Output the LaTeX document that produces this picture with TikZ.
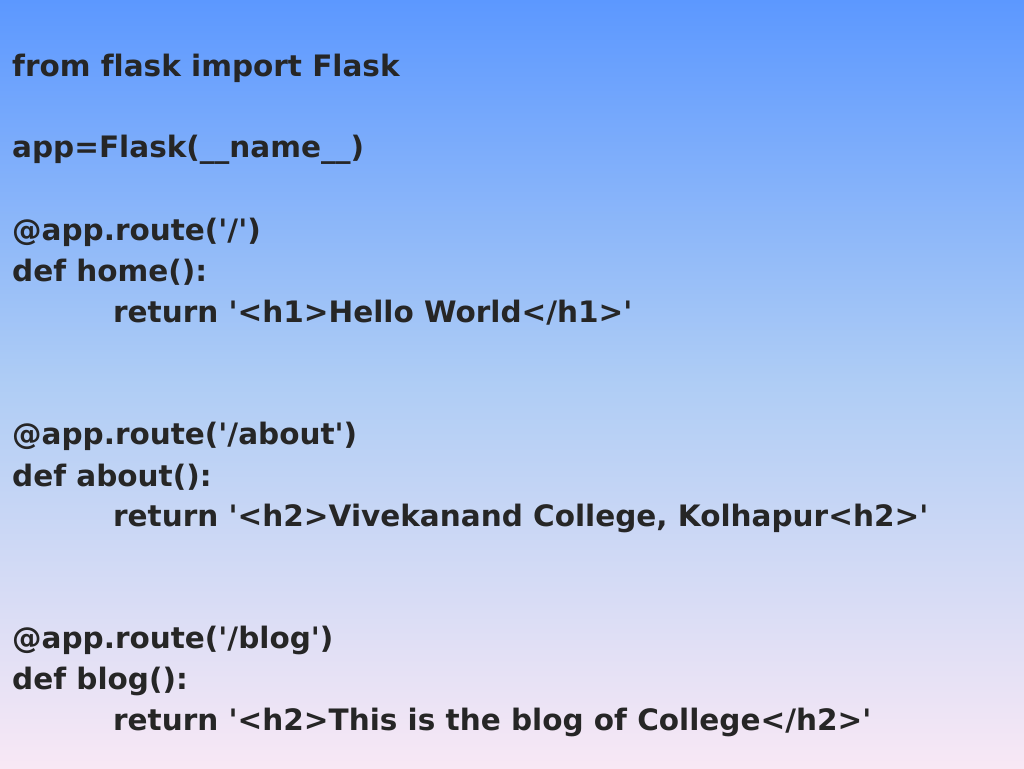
\documentclass[tikz,border=0pt]{standalone}
\usepackage{fontspec}
\setmainfont[Ligatures={NoCommon,TeXOff}]{DejaVu Sans}
\begin{document}
\begin{tikzpicture}[x=1pt,y=-1pt,
  code/.style={anchor=west,inner sep=0pt,font=\bfseries\fontsize{29.5}{32}\selectfont,text=black!85}]
\shade[top color={rgb,255:red,92;green,152;blue,255},bottom color={rgb,255:red,248;green,232;blue,245},middle color={rgb,255:red,175;green,205;blue,245}] (0,0) rectangle (1024,768);
\useasboundingbox (0,0) rectangle (1024,768);
\node[code] (l1) at (12,68) {from flask import Flask};
\node[code] (l2) at (12,150) {app=Flask(\_\_name\_\_)};
\node[code] (l3) at (12,232) {@app.route('/')};
\node[code] (l4) at (12,272) {def home():};
\node[code] (l5) at (113,313) {return '<h1>Hello World</h1>'};
\node[code] (l6) at (12,436) {@app.route('/about')};
\node[code] (l7) at (12,477) {def about():};
\node[code] (l8) at (113,518) {return '<h2>Vivekanand College, Kolhapur<h2>'};
\node[code] (l9) at (12,640) {@app.route('/blog')};
\node[code] (l10) at (12,681) {def blog():};
\node[code] (l11) at (113,722) {return '<h2>This is the blog of College</h2>'};
\end{tikzpicture}
\end{document}
